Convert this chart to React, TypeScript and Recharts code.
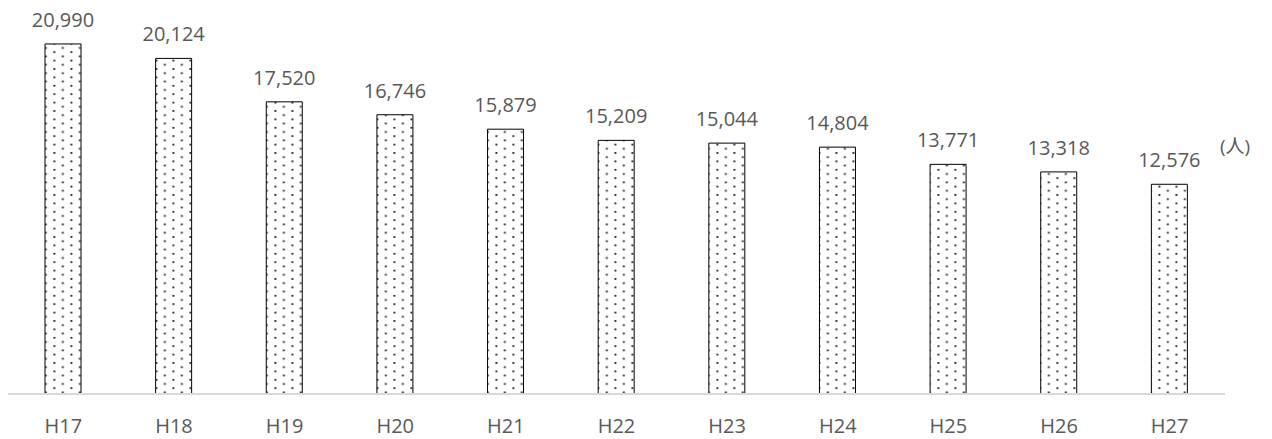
import React from 'react';
import { BarChart, Bar, XAxis, YAxis, LabelList } from 'recharts';

// 年度ごとの人数
const years = ['H17', 'H18', 'H19', 'H20', 'H21', 'H22', 'H23', 'H24', 'H25', 'H26', 'H27'];
const counts = [20990, 20124, 17520, 16746, 15879, 15209, 15044, 14804, 13771, 13318, 12576];

const data = years.map((name, i) => ({ name, count: counts[i] }));

const FONT = '"Open Sans", "Noto Sans", "Noto Sans CJK JP", sans-serif';
const GRAY = '#595959';

const fmt = (v: any) => Number(v).toLocaleString('en-US');

export default function App() {
  return (
    <div style={{ position: 'relative', width: 1272, height: 439, margin: '-8px 0 0 -8px', fontFamily: FONT }}>
      <svg width={0} height={0} style={{ position: 'absolute' }}>
        <defs>
          <pattern id="dots" patternUnits="userSpaceOnUse" x={2.5} y={0.9} width={17} height={8.4}>
            <rect width={17} height={8.4} fill="#ffffff" />
            <rect x={0} y={0} width={1.7} height={1.7} fill="#000000" />
            <rect x={8.5} y={4.2} width={1.7} height={1.7} fill="#000000" />
          </pattern>
        </defs>
      </svg>
      <BarChart
        width={1272}
        height={439}
        data={data}
        margin={{ top: 43.8, right: 47, bottom: 15, left: 8 }}
        barSize={36}
      >
        <YAxis hide domain={[0, 21000]} />
        <XAxis
          dataKey="name"
          height={30}
          tickSize={0}
          tickMargin={25}
          tickLine={false}
          axisLine={{ stroke: '#d9d9d9', strokeWidth: 2 }}
          tick={{ fill: GRAY, fontSize: 20, fontFamily: FONT }}
        />
        <Bar dataKey="count" fill="url(#dots)" stroke="#000000" strokeWidth={1} isAnimationActive={false}>
          <LabelList
            dataKey="count"
            position="top"
            offset={17}
            formatter={fmt}
            fill={GRAY}
            fontSize={20}
            fontFamily={FONT}
          />
        </Bar>
      </BarChart>
      <div
        style={{
          position: 'absolute',
          left: 1220,
          top: 132,
          color: GRAY,
          fontSize: 19,
          lineHeight: '28px',
          fontFamily: FONT,
        }}
      >
        (人)
      </div>
    </div>
  );
}
